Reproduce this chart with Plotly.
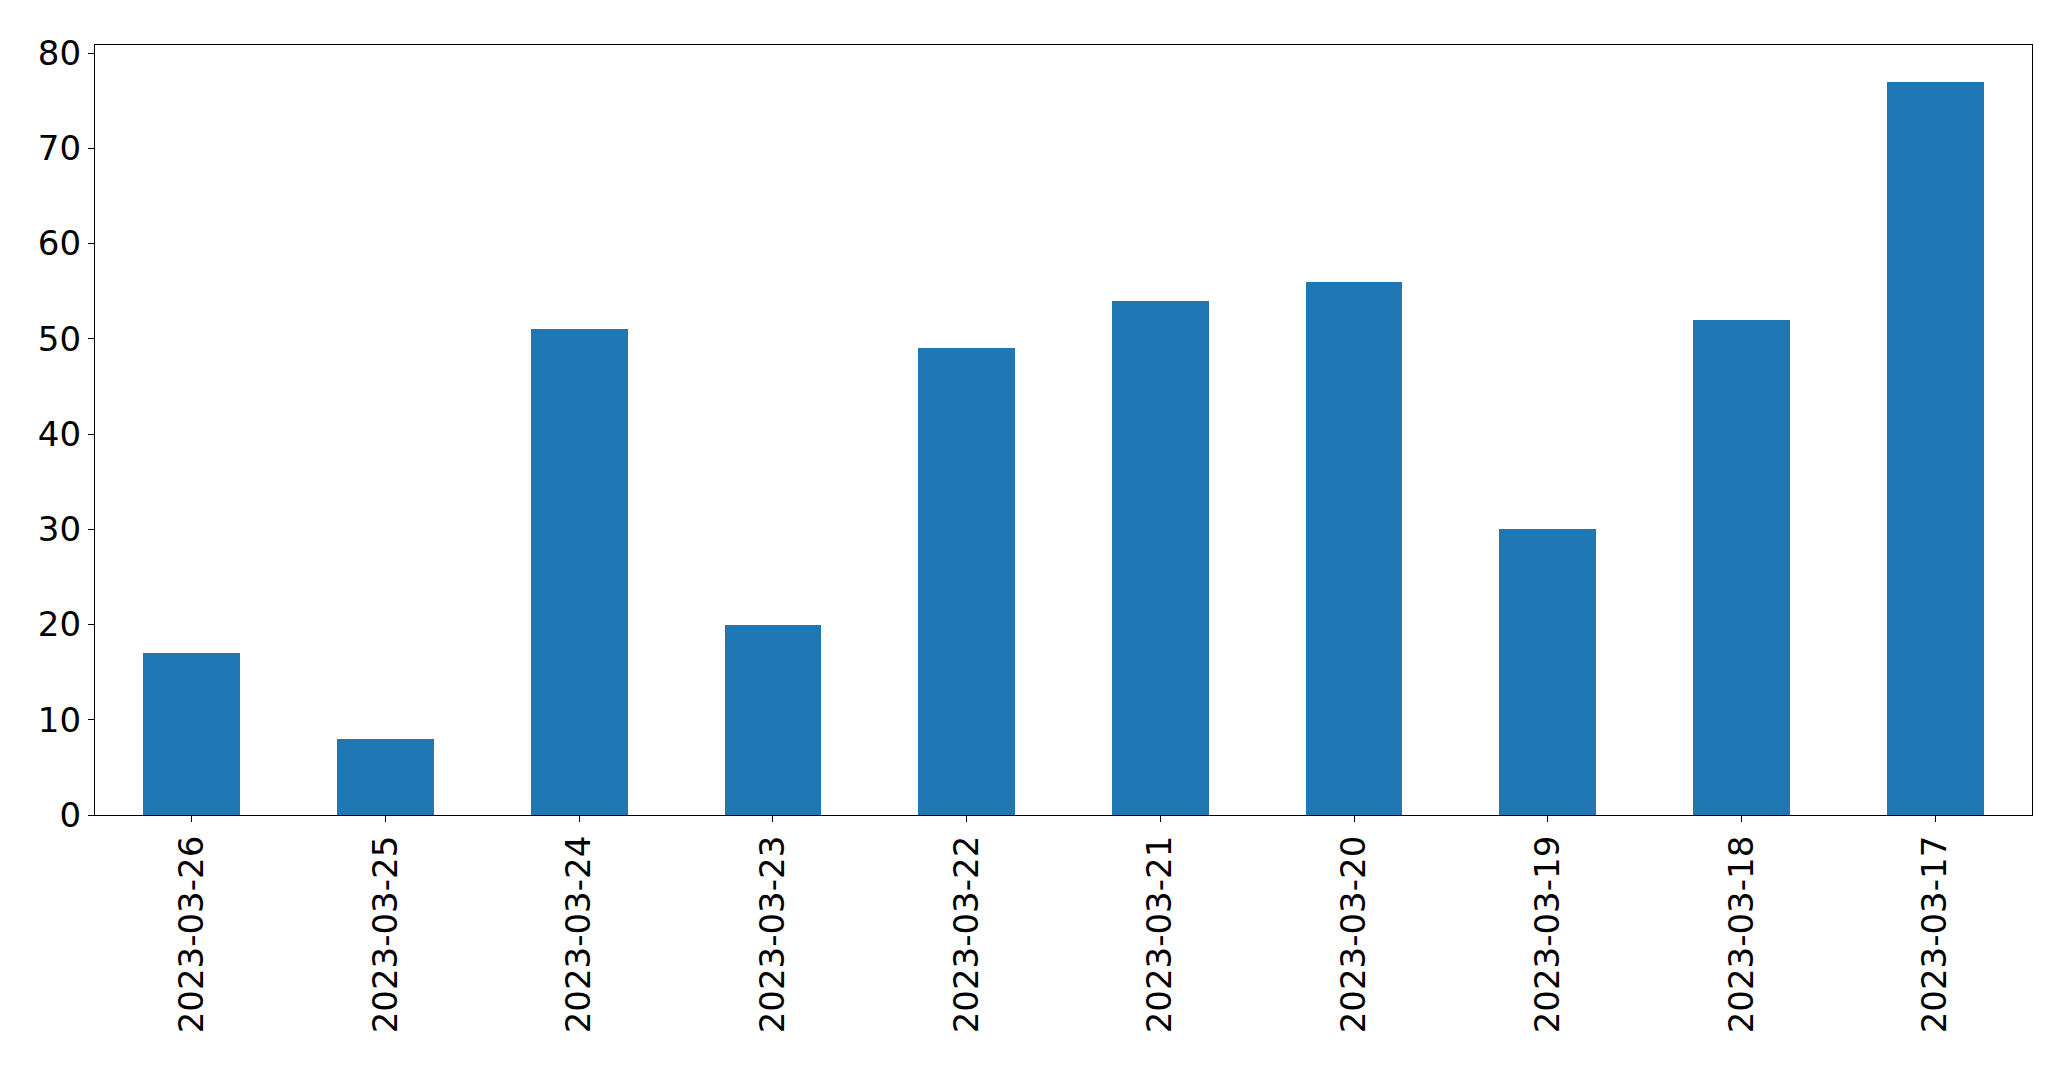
import plotly.graph_objects as go

dates = ["2023-03-26", "2023-03-25", "2023-03-24", "2023-03-23", "2023-03-22",
         "2023-03-21", "2023-03-20", "2023-03-19", "2023-03-18", "2023-03-17"]
counts = [17, 8, 51, 20, 49, 54, 56, 30, 52, 77]
y_ticks = [0, 10, 20, 30, 40, 50, 60, 70, 80]

fig = go.Figure(go.Bar(x=dates, y=counts, marker_color="#1f77b4", marker_line_width=0, width=0.5))

font = dict(family="DejaVu Sans", size=34, color="black")
fig.update_layout(
    width=2071, height=1067,
    margin=dict(l=95, r=39, t=45, b=252, pad=0),
    paper_bgcolor="white", plot_bgcolor="white",
    showlegend=False, font=font,
    bargap=0,
)
fig.update_xaxes(type="category", range=[-0.5, 9.5], tickangle=-90,
                 showline=True, linecolor="black", linewidth=1.3, mirror=True,
                 ticks="outside", ticklen=6, tickwidth=1.3, tickcolor="black",
                 showgrid=False, tickfont=font)
fig.update_yaxes(range=[0, 80.85], tickvals=y_ticks,
                 showline=True, linecolor="black", linewidth=1.3, mirror=True,
                 ticks="outside", ticklen=6, tickwidth=1.3, tickcolor="black",
                 showgrid=False, zeroline=False, tickfont=font)

fig.write_html("out.html")
